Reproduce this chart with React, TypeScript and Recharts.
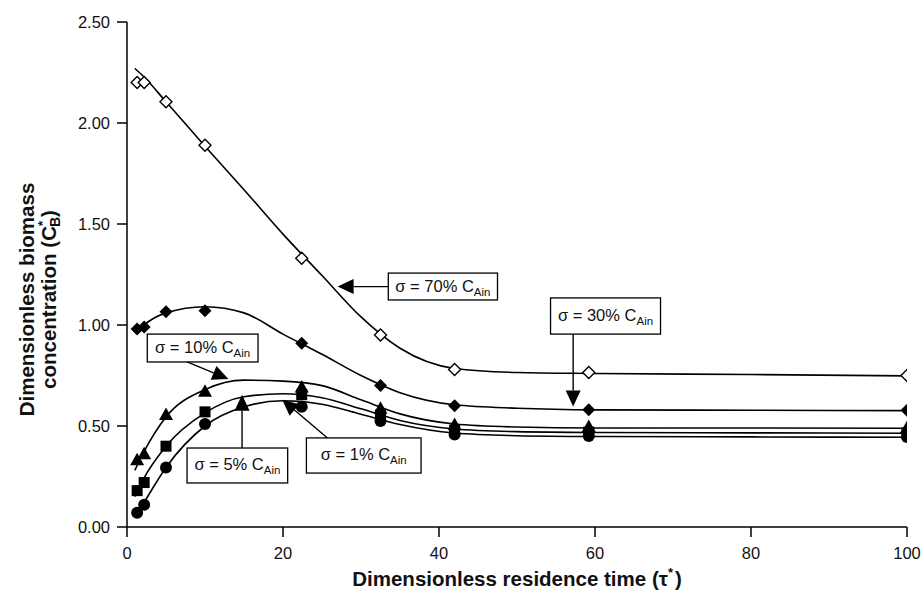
import React from 'react';
import {
  ComposedChart,
  Line,
  Scatter,
  XAxis,
  YAxis,
  ReferenceArea,
  ReferenceLine,
} from 'recharts';

const FONT = '"Liberation Sans", Arial, Helvetica, sans-serif';

// measured points (dimensionless residence time)
const tauObs = [1.3, 2.2, 5, 10, 22.4, 32.5, 42, 59.2, 100];
const obs70 = [2.2, 2.2, 2.105, 1.89, 1.33, 0.95, 0.78, 0.765, 0.75];
const obs30 = [0.98, 0.99, 1.065, 1.07, 0.91, 0.7, 0.6, 0.58, 0.578];
const obs10 = [0.33, 0.36, 0.555, 0.67, 0.69, 0.585, 0.505, 0.495, 0.49];
const obs5 = [0.18, 0.22, 0.4, 0.57, 0.655, 0.555, 0.48, 0.47, 0.465];
const obs1 = [0.07, 0.11, 0.295, 0.51, 0.595, 0.525, 0.458, 0.45, 0.445];

// fitted curves
const fitTau = [1, 2, 5, 10, 15, 20, 25, 30, 35, 42, 50, 60, 80, 100];
const fit70 = [2.27, 2.235, 2.105, 1.885, 1.67, 1.45, 1.245, 1.04, 0.885, 0.785, 0.765, 0.76, 0.755, 0.748];
const fit30 = [0.96, 0.995, 1.06, 1.09, 1.06, 0.955, 0.855, 0.75, 0.665, 0.605, 0.588, 0.58, 0.578, 0.576];
const fit10 = [0.28, 0.36, 0.545, 0.68, 0.727, 0.722, 0.7, 0.63, 0.56, 0.51, 0.495, 0.49, 0.49, 0.489];
const fit5 = [0.15, 0.23, 0.4, 0.565, 0.645, 0.66, 0.64, 0.585, 0.527, 0.485, 0.472, 0.468, 0.466, 0.464];
const fit1 = [0.05, 0.11, 0.295, 0.5, 0.595, 0.625, 0.608, 0.558, 0.507, 0.465, 0.452, 0.448, 0.446, 0.444];

const xTicks = [0, 20, 40, 60, 80, 100];
const yTicks = [0, 0.5, 1, 1.5, 2, 2.5];

const series = [
  { key: 's70', obs: obs70, fit: fit70, marker: 'openDiamond' },
  { key: 's30', obs: obs30, fit: fit30, marker: 'diamond' },
  { key: 's10', obs: obs10, fit: fit10, marker: 'triangle' },
  { key: 's5', obs: obs5, fit: fit5, marker: 'square' },
  { key: 's1', obs: obs1, fit: fit1, marker: 'circle' },
];

// label boxes and arrows, in data units
const notes = [
  { pct: '70%', box: [33.5, 47.5, 1.124, 1.257], tail: [33.5, 1.19], tip: [27.0, 1.19] },
  { pct: '30%', box: [54.3, 68.4, 0.955, 1.134], tail: [57.2, 0.955], tip: [57.2, 0.596] },
  { pct: '10%', box: [2.6, 16.8, 0.817, 0.955], tail: [7.7, 0.817], tip: [13.0, 0.733] },
  { pct: '5%', box: [7.7, 20.6, 0.218, 0.391], tail: [14.75, 0.391], tip: [14.75, 0.655] },
  { pct: '1%', box: [23.0, 37.7, 0.267, 0.441], tail: [25.7, 0.441], tip: [19.9, 0.63] },
];

const toPoints = (xs: number[], ys: number[]) => xs.map((x, i) => ({ x, y: ys[i] }));

function markerShape(kind: string) {
  return (props: any) => {
    const { cx, cy } = props;
    if (cx == null || cy == null) return <g />;
    if (kind === 'openDiamond') {
      return (
        <path
          d={`M${cx},${cy - 6} L${cx + 6},${cy} L${cx},${cy + 6} L${cx - 6},${cy} Z`}
          fill="#fff"
          stroke="#000"
          strokeWidth={1.4}
        />
      );
    }
    if (kind === 'diamond') {
      return <path d={`M${cx},${cy - 6.5} L${cx + 6.5},${cy} L${cx},${cy + 6.5} L${cx - 6.5},${cy} Z`} fill="#000" />;
    }
    if (kind === 'triangle') {
      return <path d={`M${cx},${cy - 7.5} L${cx + 7},${cy + 5} L${cx - 7},${cy + 5} Z`} fill="#000" />;
    }
    if (kind === 'square') {
      return <rect x={cx - 5.5} y={cy - 5.5} width={11} height={11} fill="#000" />;
    }
    return <circle cx={cx} cy={cy} r={6} fill="#000" />;
  };
}

function boxShape(pct: string) {
  return (p: any) => (
    <g>
      <rect x={p.x} y={p.y} width={p.width} height={p.height} fill="#fff" stroke="#000" strokeWidth={1.3} />
      <text
        x={p.x + p.width / 2}
        y={p.y + p.height / 2 + 5}
        textAnchor="middle"
        fontFamily={FONT}
        fontSize={16.5}
        fill="#111"
      >
        σ = {pct} C<tspan fontSize={11.5} dy={4}>Ain</tspan>
      </text>
    </g>
  );
}

const arrowShape = (p: any) => {
  const { x1, y1, x2, y2 } = p;
  const dx = x2 - x1;
  const dy = y2 - y1;
  const len = Math.hypot(dx, dy) || 1;
  const ux = dx / len;
  const uy = dy / len;
  const head = 16;
  const half = 7.5;
  const bx = x2 - ux * head;
  const by = y2 - uy * head;
  const nx = -uy;
  const ny = ux;
  return (
    <g>
      <line x1={x1} y1={y1} x2={bx} y2={by} stroke="#000" strokeWidth={1.4} />
      <polygon
        points={`${x2},${y2} ${bx + nx * half},${by + ny * half} ${bx - nx * half},${by - ny * half}`}
        fill="#000"
      />
    </g>
  );
};

const XTitle = (props: any) => {
  const vb = props.viewBox || {};
  const cx = (vb.x ?? 127) + (vb.width ?? 780) / 2;
  return (
    <text x={cx} y={586} textAnchor="middle" fontFamily={FONT} fontWeight="bold" fontSize={20.5} fill="#111">
      Dimensionless residence time (τ
      <tspan fontSize={13} dy={-9}>*</tspan>
      <tspan dy={9} dx={2}>)</tspan>
    </text>
  );
};

const YTitle = (props: any) => {
  const vb = props.viewBox || {};
  const cy = (vb.y ?? 22) + (vb.height ?? 505) / 2 + 25;
  return (
    <g>
      <text
        x={34}
        y={cy}
        transform={`rotate(-90, 34, ${cy})`}
        textAnchor="middle"
        fontFamily={FONT}
        fontWeight="bold"
        fontSize={20.5}
        fill="#111"
      >
        Dimensionless biomass
      </text>
      <text
        x={56}
        y={cy}
        transform={`rotate(-90, 56, ${cy})`}
        textAnchor="middle"
        fontFamily={FONT}
        fontWeight="bold"
        fontSize={20.5}
        fill="#111"
      >
        concentration (C
        <tspan fontSize={13} dy={-9}>*</tspan>
        <tspan fontSize={14} dy={13} dx={-6}>B</tspan>
        <tspan dy={-4}>)</tspan>
      </text>
    </g>
  );
};

export default function App() {
  const axisStyle = { stroke: '#000', strokeWidth: 1.5 };
  return (
    <div style={{ position: 'absolute', left: 0, top: 0, width: 921, height: 591, background: '#fff' }}>
      <ComposedChart width={921} height={591} margin={{ top: 22, right: 14, bottom: 4, left: 0 }}>
        <XAxis
          type="number"
          dataKey="x"
          domain={[0, 100]}
          ticks={xTicks}
          allowDataOverflow
          height={60}
          tickSize={10}
          tickMargin={10}
          axisLine={axisStyle}
          tickLine={axisStyle}
          tick={{ fill: '#111', fontSize: 16.5, fontFamily: FONT }}
          label={<XTitle />}
        />
        <YAxis
          type="number"
          dataKey="y"
          domain={[0, 2.5]}
          ticks={yTicks}
          allowDataOverflow
          width={127}
          tickSize={10}
          tickMargin={7}
          axisLine={axisStyle}
          tickLine={axisStyle}
          tickFormatter={(v: number) => v.toFixed(2)}
          tick={{ fill: '#111', fontSize: 16.5, fontFamily: FONT }}
          label={<YTitle />}
        />
        {series.map((s) => (
          <Line
            key={`fit-${s.key}`}
            data={toPoints(fitTau, s.fit)}
            dataKey="y"
            type="monotone"
            stroke="#000"
            strokeWidth={1.6}
            dot={false}
            activeDot={false}
            isAnimationActive={false}
          />
        ))}
        {series.map((s) => (
          <Scatter
            key={`obs-${s.key}`}
            data={toPoints(tauObs, s.obs)}
            dataKey="y"
            shape={markerShape(s.marker)}
            isAnimationActive={false}
          />
        ))}
        {notes.map((n) => (
          <ReferenceLine
            key={`arrow-${n.pct}`}
            segment={[
              { x: n.tail[0], y: n.tail[1] },
              { x: n.tip[0], y: n.tip[1] },
            ]}
            shape={arrowShape}
          />
        ))}
        {notes.map((n) => (
          <ReferenceArea
            key={`box-${n.pct}`}
            x1={n.box[0]}
            x2={n.box[1]}
            y1={n.box[2]}
            y2={n.box[3]}
            shape={boxShape(n.pct)}
          />
        ))}
      </ComposedChart>
    </div>
  );
}
